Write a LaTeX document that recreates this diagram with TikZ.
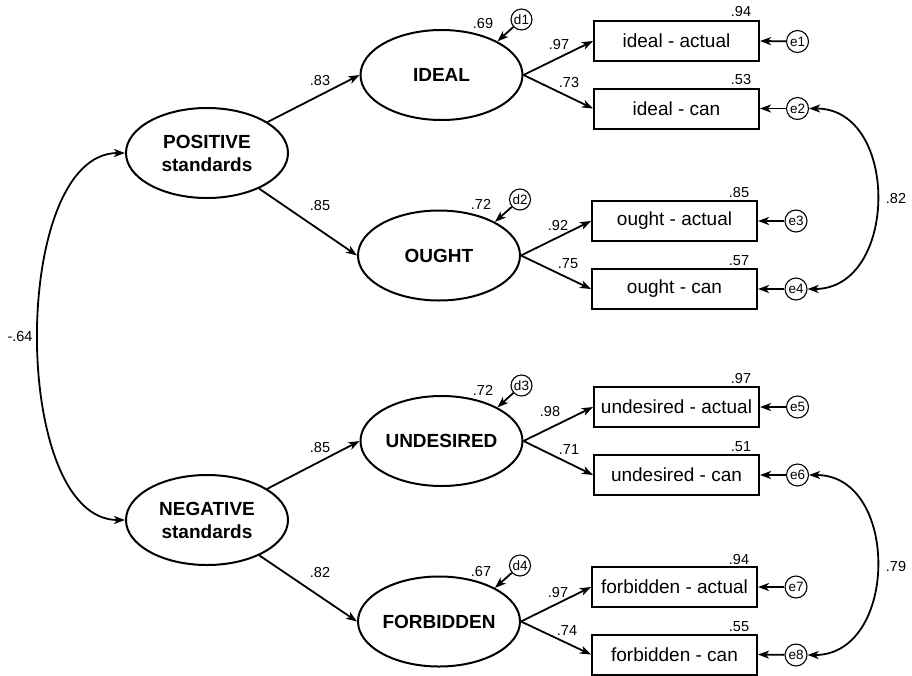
\documentclass[tikz,border=0pt]{standalone}
\usepackage{fontspec}
\setmainfont{Liberation Sans}
\usetikzlibrary{arrows.meta,shapes.geometric}
\begin{document}
\begin{tikzpicture}[x=1pt,y=-1pt,
  lat/.style={ellipse, draw, line width=2pt, minimum width=162pt, minimum height=90pt, inner sep=0pt, font=\fontsize{19}{23}\selectfont\bfseries, align=center},
  obs/.style={rectangle, draw, line width=2pt, minimum width=165pt, minimum height=40pt, inner sep=0pt, font=\fontsize{19}{22}\selectfont},
  err/.style={circle, draw, line width=1.1pt, minimum size=22pt, inner sep=0pt, font=\fontsize{13.5}{14}\selectfont},
  dis/.style={err, minimum size=21pt},
  lbl/.style={font=\fontsize{14.5}{16}\selectfont, inner sep=0pt},
  arr/.style={line width=1.8pt, -{Stealth[length=11pt,width=8pt,inset=3pt]}},
  darr/.style={line width=1.8pt, {Stealth[length=11pt,width=8pt,inset=3pt]}-{Stealth[length=11pt,width=8pt,inset=3pt]}}]
\path[use as bounding box] (0,0) rectangle (912,675);
% latent
\node[lat] (pos) at (207,153) {POSITIVE\\standards};
\node[lat] (neg) at (207,520) {NEGATIVE\\standards};
\node[lat] (ideal) at (441.5,75) {IDEAL};
\node[lat] (ought) at (439,255.5) {OUGHT};
\node[lat] (und) at (441.5,441) {UNDESIRED};
\node[lat] (forb) at (439,621.5) {FORBIDDEN};
% observed
\node[obs] (ia) at (676.5,41) {ideal - actual};
\node[obs] (ic) at (676.5,108.5) {ideal - can};
\node[obs] (oa) at (674.5,221) {ought - actual};
\node[obs] (oc) at (674.5,289) {ought - can};
\node[obs] (ua) at (676.5,407) {undesired - actual};
\node[obs] (uc) at (676.5,475) {undesired - can};
\node[obs] (fa) at (674.5,587) {forbidden - actual};
\node[obs] (fc) at (674.5,654.5) {forbidden - can};
% errors
\node[err] (e1) at (797.5,41.5) {e1};
\node[err] (e2) at (797.5,108.5) {e2};
\node[err] (e3) at (796,221) {e3};
\node[err] (e4) at (796,289) {e4};
\node[err] (e5) at (797.5,407) {e5};
\node[err] (e6) at (797.5,475) {e6};
\node[err] (e7) at (796,587) {e7};
\node[err] (e8) at (796,655) {e8};
% disturbances
\node[dis] (d1) at (521.5,19.5) {d1};
\node[dis] (d2) at (520,199.5) {d2};
\node[dis] (d3) at (521.5,385.5) {d3};
\node[dis] (d4) at (520,565.5) {d4};
% second-order loadings
\draw[arr] (pos) -- (ideal.west);
\draw[arr] (pos) -- (ought.west);
\draw[arr] (neg) -- (und.west);
\draw[arr] (neg) -- (forb.west);
% first-order loadings
\draw[arr] (ideal.east) -- (ia.west);
\draw[arr] (ideal.east) -- (ic.west);
\draw[arr] (ought.east) -- (oa.west);
\draw[arr] (ought.east) -- (oc.west);
\draw[arr] (und.east) -- (ua.west);
\draw[arr] (und.east) -- (uc.west);
\draw[arr] (forb.east) -- (fa.west);
\draw[arr] (forb.east) -- (fc.west);
% errors
\draw[arr] (e1) -- (ia.east);
\draw[arr] (e2) -- (ic.east);
\draw[arr] (e3) -- (oa.east);
\draw[arr] (e4) -- (oc.east);
\draw[arr] (e5) -- (ua.east);
\draw[arr] (e6) -- (uc.east);
\draw[arr] (e7) -- (fa.east);
\draw[arr] (e8) -- (fc.east);
% disturbances
\draw[arr] (d1) -- (ideal.31);
\draw[arr] (d2) -- (ought.31);
\draw[arr] (d3) -- (und.31);
\draw[arr] (d4) -- (forb.31);
% correlations
\draw[darr] (pos.west) .. controls +(-115,0) and +(-115,0) .. (neg.west);
\draw[darr] (e2.east) .. controls +(91,0) and +(91,0) .. (e4.east);
\draw[darr] (e6.east) .. controls +(91,0) and +(91,0) .. (e8.east);
% labels
\node[lbl] (l1) at (320,81) {.83};
\node[lbl] (l2) at (320,206) {.85};
\node[lbl] (l3) at (320,447) {.85};
\node[lbl] (l4) at (320,572) {.82};
\node[lbl] (r1) at (483,24) {.69};
\node[lbl] (r2) at (481,204) {.72};
\node[lbl] (r3) at (483,390) {.72};
\node[lbl] (r4) at (481,571) {.67};
\node[lbl] (m1) at (559,45) {.97};
\node[lbl] (m2) at (569,83) {.73};
\node[lbl] (m3) at (558,226) {.92};
\node[lbl] (m4) at (568,264) {.75};
\node[lbl] (m5) at (550,411) {.98};
\node[lbl] (m6) at (569,450) {.71};
\node[lbl] (m7) at (558,592) {.97};
\node[lbl] (m8) at (567,630) {.74};
\node[lbl] (s1) at (741,12) {.94};
\node[lbl] (s2) at (741,80) {.53};
\node[lbl] (s3) at (739,193) {.85};
\node[lbl] (s4) at (739,261) {.57};
\node[lbl] (s5) at (741,378) {.97};
\node[lbl] (s6) at (741,447) {.51};
\node[lbl] (s7) at (739,559) {.94};
\node[lbl] (s8) at (739,627) {.55};
\node[lbl] (c1) at (896,199) {.82};
\node[lbl] (c2) at (896,566) {.79};
\node[lbl] (c3) at (20,337) {-.64};
\end{tikzpicture}
\end{document}
